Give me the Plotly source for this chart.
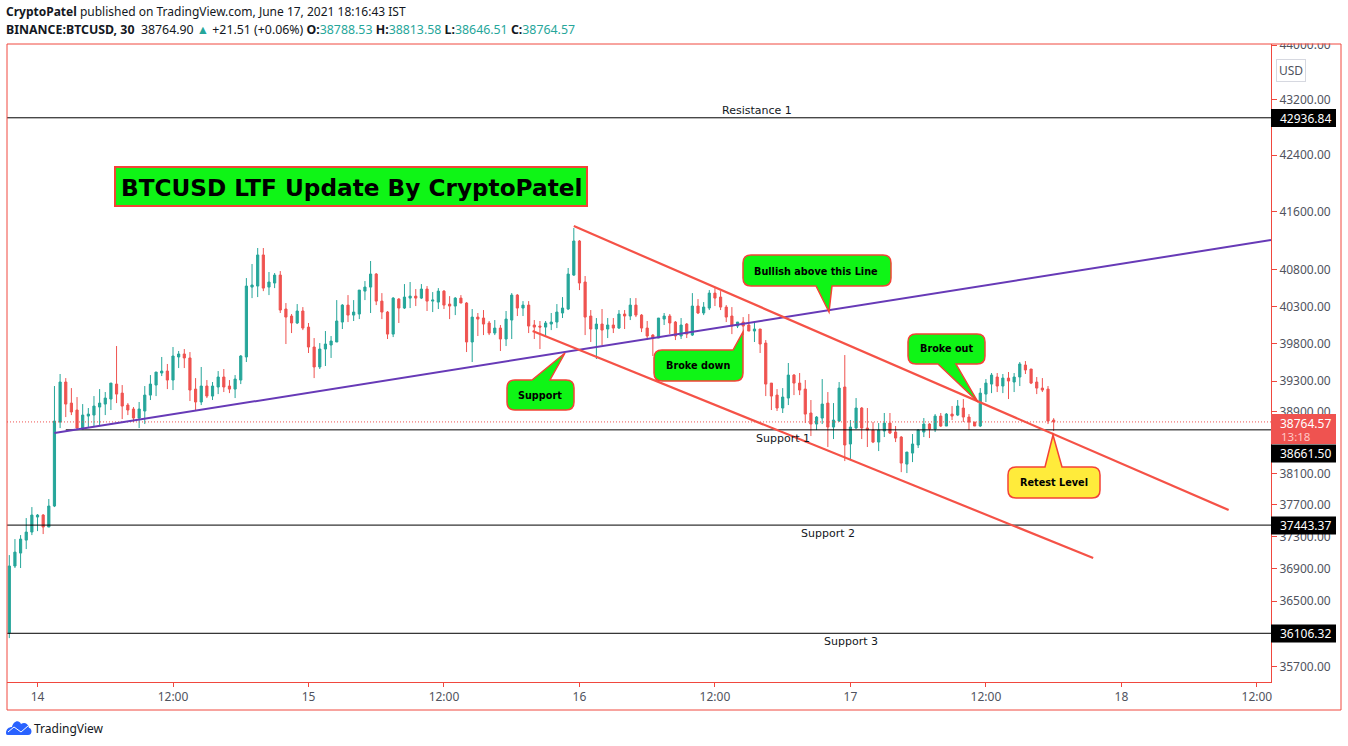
import pandas as pd
import numpy as np
import plotly.graph_objects as go

open_prices = [
36112,36932,37093,37255,37356,37545,37570,37419,37684,38763,
39288,39011,38920,38672,38841,38854,38959,38998,39064,39261,
39142,38985,38933,38815,38907,39116,39248,39407,39433,39314,
39620,39660,39607,39195,39025,39235,39103,39222,39354,39235,
39195,39314,39620,40562,40576,41002,40562,40617,40726,40264,
40169,40075,40237,40020,39753,39487,39726,39780,39820,40088,
40317,40182,40196,40507,40562,40740,40371,40223,39926,40399,
40277,40412,40439,40412,40535,40371,40358,40507,40331,40304,
40412,40345,39820,40155,40142,40075,39940,40007,39860,40115,
40453,40277,40317,40048,40034,40020,40061,40088,40210,40264,
40726,41195,40631,40169,39994,40061,39994,40048,40007,40196,
40169,40317,40182,40007,39913,39873,40128,40169,40088,39900,
40061,39913,40304,40210,40277,40480,40426,40290,40169,40034,
40088,40048,39967,39994,39806,39274,39116,38946,39077,39380,
39274,39195,38881,38737,38815,39011,38698,38776,39222,38478,
38685,38946,38685,38659,38503,38646,38750,38633,38568,38219,
38361,38465,38633,38737,38672,38841,38711,38867,38854,38946,
38828,38763,38711,39129,39261,39354,39235,39340,39288,39354,
39513,39460,39288,39208,39195,38788.53]
high_prices = [
37068,37268,37318,37532,37671,37583,37583,37773,39235,39394,
39340,39208,39090,38998,38946,39103,39195,39156,39274,39766,
39248,39011,38959,39025,39235,39380,39420,39620,39527,39753,
39700,39726,39686,39340,39487,39314,39288,39433,39460,39314,
39380,39646,40685,40878,41098,41098,40768,40754,40781,40345,
40196,40331,40290,40075,39873,39806,39967,39900,40385,40331,
40453,40385,40521,40644,40919,40754,40480,40237,40426,40412,
40603,40631,40535,40603,40576,40494,40548,40521,40439,40426,
40453,40358,40264,40210,40250,40102,40115,40048,40237,40480,
40467,40371,40371,40115,40102,40102,40210,40331,40426,40823,
41375,41208,40713,40250,40142,40264,40142,40142,40250,40250,
40412,40412,40196,40102,39926,40142,40210,40196,40102,40142,
40075,40480,40399,40358,40521,40548,40507,40317,40290,40088,
40155,40196,40088,39994,39846,39274,39195,39208,39540,39394,
39407,39314,39051,38841,39327,39156,39011,39288,39646,38789,
39077,38959,38946,38763,38750,38881,38881,38711,38581,38374,
38607,38672,38815,38750,38867,38881,38881,38972,39051,39064,
38867,38763,39208,39327,39407,39407,39394,39420,39407,39553,
39566,39460,39354,39340,39235,38813.58]
low_prices = [
36048,36907,36907,37143,37318,37368,37331,37419,37671,38685,
38828,38854,38659,38659,38698,38711,38724,38854,38920,39011,
38802,38854,38763,38685,38737,39051,39103,39367,39195,39182,
39473,39473,39038,38907,38985,39077,39051,39129,39156,39142,
39077,39261,39553,40412,40426,40507,40453,40548,40210,39793,
39940,40061,39980,39673,39340,39460,39500,39607,39820,39994,
40088,40102,40128,40385,40210,40317,40128,39860,39886,40075,
40264,40277,40304,40399,40237,40223,40264,40264,40128,40182,
40345,39686,39553,39900,39913,39913,39913,39700,39766,39860,
40169,40169,39940,39860,39726,39900,39980,40007,40142,40250,
40713,40521,39913,39820,39593,39780,39873,39940,39994,39994,
40115,40155,39953,39846,39633,39873,40048,39926,39846,39860,
39873,39900,40196,40182,40250,40304,40250,40088,39926,40007,
39913,39967,39820,39673,39103,38920,38907,38881,38985,39116,
39116,38750,38581,38659,38737,38439,38542,38763,38258,38271,
38672,38542,38439,38490,38387,38568,38607,38503,38116,38104,
38245,38426,38568,38555,38633,38698,38711,38789,38841,38763,
38659,38711,38698,39025,39142,39156,39142,39064,39156,39235,
39394,39261,39129,39156,38737,38646.51]
close_prices = [
36932,37105,37268,37356,37570,37570,37419,37684,38776,39288,
38998,38894,38685,38854,38867,38972,39011,39077,39274,39129,
38972,38920,38815,38933,39116,39261,39420,39433,39314,39633,
39660,39607,39182,39025,39235,39103,39235,39354,39222,39195,
39327,39633,40576,40590,41002,40548,40631,40726,40250,40155,
40075,40237,40007,39753,39487,39726,39793,39833,40102,40317,
40182,40223,40521,40562,40740,40371,40223,39926,40412,40277,
40426,40439,40412,40535,40371,40385,40507,40317,40304,40412,
40345,39820,40155,40128,40061,39940,40007,39860,40128,40453,
40277,40317,40034,40020,40020,40075,40088,40223,40277,40740,
41195,40617,40155,39994,40061,39980,40048,40007,40196,40169,
40317,40182,40007,39900,39873,40142,40169,40075,39900,40048,
39926,40304,40210,40290,40480,40412,40290,40155,40034,40088,
40034,39967,39994,39793,39261,39103,38946,39090,39380,39274,
39182,38867,38737,38828,38998,38698,38789,39208,38465,38698,
38946,38685,38659,38503,38659,38750,38620,38555,38232,38374,
38478,38659,38737,38672,38841,38711,38867,38841,38972,38828,
38763,38711,39142,39274,39380,39235,39340,39301,39354,39527,
39447,39274,39208,39182,38776,38764.57]

first_bar = "2021-06-13 21:30"
x_start = "2021-06-13 21:17:48"
x_end = "2021-06-18 13:15"

y_tick_values = [44000,43200,42400,41600,40800,40300,39800,39300,38900,38100,37700,37300,36900,36500,35700]
y_tick_labels = ["44000.00","43200.00","42400.00","41600.00","40800.00","40300.00","39800.00","39300.00",
                 "38900.00","38100.00","37700.00","37300.00","36900.00","36500.00","35700.00"]
x_tick_values = ["2021-06-14 00:00","2021-06-14 12:00","2021-06-15 00:00","2021-06-15 12:00","2021-06-16 00:00",
                 "2021-06-16 12:00","2021-06-17 00:00","2021-06-17 12:00","2021-06-18 00:00","2021-06-18 12:00"]
x_tick_labels = ["14","12:00","15","12:00","16","12:00","17","12:00","18","12:00"]

resistance_1 = 42936.84
support_1 = 38661.50
support_2 = 37443.37
support_3 = 36106.32
last_close = 38764.57

trend_x = ["2021-06-14 01:30", x_end]
trend_y = [38620, 41208]
channel_upper_x = ["2021-06-15 23:30", "2021-06-18 09:30"]
channel_upper_y = [41402, 37633]
channel_lower_x = ["2021-06-15 19:51", "2021-06-17 21:30"]
channel_lower_y = [39967, 37031]

times = pd.date_range(first_bar, periods=len(open_prices), freq="30min").strftime("%Y-%m-%d %H:%M").tolist()

UP = "#26a69a"; DOWN = "#ef5350"; FRAME = "#f0483e"; GREEN = "#0ff516"; YELLOW = "#ffeb3b"
TXT = "#50535e"; FONT = "Noto Sans"; DRAW = "DejaVu Sans"

L, R, T, B = 7, 1271, 44, 682
W, H = R - L, B - T
px = lambda v: (v - L) / W
py = lambda v: (B - v) / H

fig = go.Figure()
fig.add_trace(go.Candlestick(x=times, open=open_prices, high=high_prices, low=low_prices, close=close_prices,
    increasing=dict(line=dict(color=UP, width=1), fillcolor=UP),
    decreasing=dict(line=dict(color=DOWN, width=1), fillcolor=DOWN),
    whiskerwidth=0, showlegend=False, hoverinfo="skip"))

def line(x, y, color, width, dash="solid"):
    fig.add_trace(go.Scatter(x=x, y=y, mode="lines", line=dict(color=color, width=width, dash=dash),
                             showlegend=False, hoverinfo="skip"))

line([x_start, x_end], [last_close, last_close], DOWN, 1, "1px,2px")
line([x_start, x_end], [resistance_1, resistance_1], "#000000", 1)
line(["2021-06-14 02:30", x_end], [support_1, support_1], "#000000", 1)
line([x_start, x_end], [support_2, support_2], "#000000", 1)
line([x_start, x_end], [support_3, support_3], "#000000", 1)
line(trend_x, trend_y, "#673ab7", 2)
line(channel_upper_x, channel_upper_y, "#f55247", 2.2)
line(channel_lower_x, channel_lower_y, "#f55247", 2.2)

shapes, annotations = [], []

def pt(x, y):
    return f"{px(x):.5f},{py(y):.5f}"

def bubble(x0, y0, x1, y1, tail, fill, r=8):
    """tail: (side, a, tip, b) with a, b positions along the side."""
    p = [f"M{pt(x0 + r, y0)}"]
    if tail[0] == "top":
        p += [f"L{pt(tail[1], y0)}", f"L{pt(*tail[2])}"]
        if tail[3] < x1 - r:
            p += [f"L{pt(tail[3], y0)}", f"L{pt(x1 - r, y0)}", f"Q{pt(x1, y0)} {pt(x1, y0 + r)}"]
        else:
            p += [f"L{pt(x1, y0 + r)}"]
    else:
        p += [f"L{pt(x1 - r, y0)}", f"Q{pt(x1, y0)} {pt(x1, y0 + r)}"]
    p += [f"L{pt(x1, y1 - r)}", f"Q{pt(x1, y1)} {pt(x1 - r, y1)}"]
    if tail[0] == "bottom":
        p += [f"L{pt(tail[3], y1)}", f"L{pt(*tail[2])}", f"L{pt(tail[1], y1)}"]
    p += [f"L{pt(x0 + r, y1)}", f"Q{pt(x0, y1)} {pt(x0, y1 - r)}", f"L{pt(x0, y0 + r)}", f"Q{pt(x0, y0)} {pt(x0 + r, y0)}", "Z"]
    shapes.append(dict(type="path", xref="paper", yref="paper", path=" ".join(p), fillcolor=fill,
                       line=dict(color="#f44336", width=1.5), layer="above"))

def text(x, y, s, size=11, color="#000000", family=DRAW, xanchor="center", **kw):
    annotations.append(dict(xref="paper", yref="paper", x=px(x), y=py(y), text=s, showarrow=False,
                            xanchor=xanchor, yanchor="middle", font=dict(size=size, color=color, family=family), **kw))

CALL = 9.7
bubble(743, 255, 891, 286, ("bottom", 816, (829, 312), 832), GREEN)
text(816, 271, "<b>Bullish above this Line</b>", CALL)
bubble(507, 380, 574, 410, ("top", 532, (565, 353), 550), GREEN)
text(540, 395.5, "<b>Support</b>", CALL)
bubble(654, 350, 743, 381, ("top", 733, (743, 332), 743), GREEN)
text(698, 365.5, "<b>Broke down</b>", CALL)
bubble(908, 334, 985, 364, ("bottom", 938, (978, 402), 956), GREEN)
text(946, 348.5, "<b>Broke out</b>", CALL)
bubble(1008, 467, 1100, 498, ("top", 1045, (1053, 435), 1062), YELLOW)
text(1054, 482.5, "<b>Retest Level</b>", CALL)

# headline box
shapes.append(dict(type="rect", xref="paper", yref="paper", x0=px(115), x1=px(587), y0=py(206), y1=py(167),
                   fillcolor=GREEN, line=dict(color="#f44336", width=2), layer="above"))
text(351, 187.5, "<b>BTCUSD LTF Update By CryptoPatel</b>", 23.2)

# level captions
text(757, 110.5, "Resistance 1", 11, "#131722")
text(783, 438.5, "Support 1", 11, "#131722")
text(828, 533, "Support 2", 11, "#131722")
text(851, 641, "Support 3", 11, "#131722")

# price scale tags
def tag(y0, y1, fill):
    shapes.append(dict(type="rect", xref="paper", yref="paper", x0=px(1271), x1=px(1336), y0=py(y1), y1=py(y0),
                       fillcolor=fill, line=dict(width=0), layer="above"))
for value, cy in [(resistance_1, 118), (support_1, 453.5), (support_2, 525.5), (support_3, 633.5)]:
    tag(cy - 9, cy + 9, "#000000")
    text(1305, cy, f"{value:.2f}", 12, "#ffffff", FONT)
tag(414, 444, DOWN)
text(1305, 423, f"{last_close:.2f}", 12, "#ffffff", FONT)
text(1295, 436.5, "13:18", 11.5, "#ffc9c6", FONT)

# top of the price scale is cut off at the frame
shapes.append(dict(type="rect", xref="paper", yref="paper", x0=px(1273), x1=px(1345), y0=py(43.5), y1=py(34),
                   fillcolor="#ffffff", line=dict(width=0), layer="above"))
# frame
shapes.append(dict(type="rect", xref="paper", yref="paper", x0=0, x1=px(1341), y0=py(710), y1=1,
                   line=dict(color=FRAME, width=1), layer="above"))
# currency badge
annotations.append(dict(xref="paper", yref="paper", x=px(1306), y=py(59), text="USD", showarrow=False,
                        font=dict(size=12, color=TXT, family=FONT), bgcolor="#ffffff", bordercolor="#d6d8e0",
                        borderwidth=1, borderpad=2))

# header
text(4, 11, "<b>CryptoPatel</b> published on TradingView.com, June 17, 2021 18:16:43 IST", 12, "#131722", FONT, xanchor="left")
val = lambda s: f'<span style="color:{UP}">{s}</span>'
text(4, 29, f"<b>BINANCE:BTCUSD, 30</b>  38764.90 {val('▲')} +21.51 (+0.06%) <b>O:</b>{val('38788.53')} "
            f"<b>H:</b>{val('38813.58')} <b>L:</b>{val('38646.51')} <b>C:</b>{val('38764.57')}",
     12.35, "#131722", FONT, xanchor="left")

# footer logo
cloud = ("M{a} C{b} {c} {d} C{e} {f} {g} C{h} {i} {j} C{k} {l} {m} L{n} C{o} {p} {a} Z").format(
    a=pt(6, 733), b=pt(6, 729), c=pt(9, 727), d=pt(12, 727), e=pt(13, 721), f=pt(19, 719), g=pt(21, 724),
    h=pt(24, 722), i=pt(28, 723), j=pt(29, 728), k=pt(32, 728), l=pt(33, 735), m=pt(28, 735),
    n=pt(9, 735), o=pt(7, 735), p=pt(6, 735))
shapes.append(dict(type="path", xref="paper", yref="paper", path=cloud, fillcolor="#2962ff", line=dict(width=0), layer="above"))
shapes.append(dict(type="path", xref="paper", yref="paper", path=f"M{pt(8, 732)} L{pt(14, 727)} L{pt(21, 732)} L{pt(28, 726)}",
                   line=dict(color="#ffffff", width=1), layer="above"))
text(32, 728, "TradingView", 12, "#131722", FONT, xanchor="left")

fig.update_layout(
    width=1348, height=746, autosize=False,
    margin=dict(l=L, r=1348 - R, t=T, b=746 - B),
    plot_bgcolor="#ffffff", paper_bgcolor="#ffffff",
    showlegend=False, boxgap=0.45,
    shapes=shapes, annotations=annotations,
    xaxis=dict(type="date", range=[x_start, x_end], rangeslider=dict(visible=False), showgrid=False, zeroline=False,
               tickmode="array", tickvals=x_tick_values, ticktext=x_tick_labels, ticks="outside", ticklen=4,
               tickcolor=FRAME, tickwidth=1, showline=True, linecolor=FRAME, linewidth=1,
               tickfont=dict(size=12, color=TXT, family=FONT)),
    yaxis=dict(type="log", side="right", range=[np.log10(35520), np.log10(44015)], showgrid=False, zeroline=False,
               tickmode="array", tickvals=y_tick_values, ticktext=y_tick_labels, ticks="outside", ticklen=5,
               tickcolor=FRAME, tickwidth=1, showline=True, linecolor=FRAME, linewidth=1, mirror=False,
               tickfont=dict(size=12, color=TXT, family=FONT)),
)
fig.write_html("out.html", config=dict(displayModeBar=False),
               post_script="document.body.style.margin='0';document.documentElement.style.overflow='hidden';")
